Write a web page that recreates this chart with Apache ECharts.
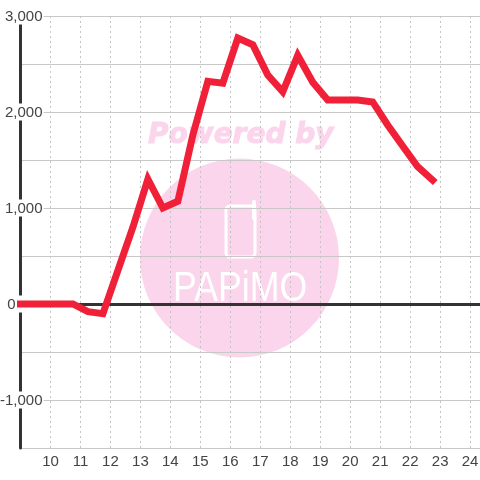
<!DOCTYPE html>
<html>
<head>
<meta charset="utf-8">
<style>
  html, body { margin: 0; padding: 0; background: #fff; }
  #main { width: 480px; height: 480px; }
</style>
<script src="https://cdn.jsdelivr.net/npm/echarts@6/dist/echarts.min.js"></script>
</head>
<body>
<div id="main"></div>
<script>
// hour of day, readings are half hourly at :15 and :45
const hours = [9, 9.75, 10.25, 10.75, 11.25, 11.75, 12.25, 12.75, 13.25, 13.75, 14.25, 14.75, 15.25, 15.75,
  16.25, 16.75, 17.25, 17.75, 18.25, 18.75, 19.25, 19.75, 20.25, 20.75, 21.25, 21.75, 22.25, 22.75];
const values = [0, 0, 0, 0, -80, -100, 350, 800, 1300, 1000, 1070, 1760, 2320, 2300,
  2770, 2700, 2385, 2210, 2590, 2310, 2125, 2125, 2125, 2105, 1865, 1645, 1430, 1290];
const xTickLabels = [10, 11, 12, 13, 14, 15, 16, 17, 18, 19, 20, 21, 22, 23, 24];
const yTickLabels = [-1000, 0, 1000, 2000, 3000];

const chart = echarts.init(document.getElementById('main'));

chart.setOption({
  animation: false,
  backgroundColor: '#fff',
  textStyle: { fontFamily: 'Liberation Sans' },
  grid: { left: 20.5, right: 0, top: 16, bottom: 32, outerBoundsMode: 'none' },
  // watermark, sits behind the grid lines
  graphic: {
    elements: [
      { type: 'circle', z: -10, shape: { cx: 239.5, cy: 258, r: 99.5 }, style: { fill: '#fbd5ec' } },
      { type: 'text', z: -10, x: 148, y: 122,
        style: { text: 'Powered by', fill: '#fbd5ec', stroke: '#fbd5ec', lineWidth: 1, font: 'italic bold 28px "DejaVu Sans"' } },
      { type: 'rect', z: -9, shape: { x: 226, y: 206, width: 29, height: 51, r: 4 },
        style: { fill: 'none', stroke: '#fff', lineWidth: 3 } },
      { type: 'rect', z: -9, shape: { x: 252, y: 200, width: 4, height: 20, r: 2 },
        style: { fill: '#fff' } },
      { type: 'text', z: -9, x: 173, y: 268, scaleX: 0.85,
        style: { text: 'PAPiMO', fill: '#fff', font: '42px "Liberation Sans"' } }
    ]
  },
  xAxis: {
    type: 'value',
    min: 9,
    max: 24.33,
    interval: 1,
    axisLine: { show: false },
    axisTick: { show: false },
    axisLabel: {
      color: '#444', fontSize: 15, margin: 6,
      customValues: xTickLabels
    },
    splitLine: { show: true, lineStyle: { color: '#c4c4c4', type: [2, 3], width: 1 } }
  },
  yAxis: {
    type: 'value',
    min: -1500,
    max: 3000,
    interval: 500,
    position: 'left',
    axisLine: { show: true, onZero: false, lineStyle: { color: '#333', width: 3 } },
    axisTick: { show: false },
    axisLabel: {
      color: '#444', fontSize: 15, margin: -23,
      backgroundColor: '#fff',
      padding: [2, 1, 0, 1],
      formatter: function (v) {
        if (v === 0) return '{zero|0}';
        if (yTickLabels.indexOf(v) < 0) return '';
        return echarts.format.addCommas(v);
      },
      rich: { zero: { color: '#444', fontSize: 15, padding: [0, 27, 0, 0], backgroundColor: 'transparent' } }
    },
    splitLine: { show: true, lineStyle: { color: '#c8c8c8', width: 1 } }
  },
  series: [
    {
      // zero line
      type: 'line',
      silent: true,
      symbol: 'none',
      data: [],
      markLine: {
        silent: true,
        symbol: 'none',
        label: { show: false },
        lineStyle: { color: '#333', width: 3, type: 'solid' },
        data: [{ yAxis: 0 }]
      }
    },
    {
      type: 'line',
      data: hours.map((h, i) => [h, values[i]]),
      symbol: 'none',
      clip: false,
      z: 5,
      lineStyle: { color: '#f02038', width: 7, cap: 'square', join: 'miter' }
    }
  ]
});
</script>
</body>
</html>
